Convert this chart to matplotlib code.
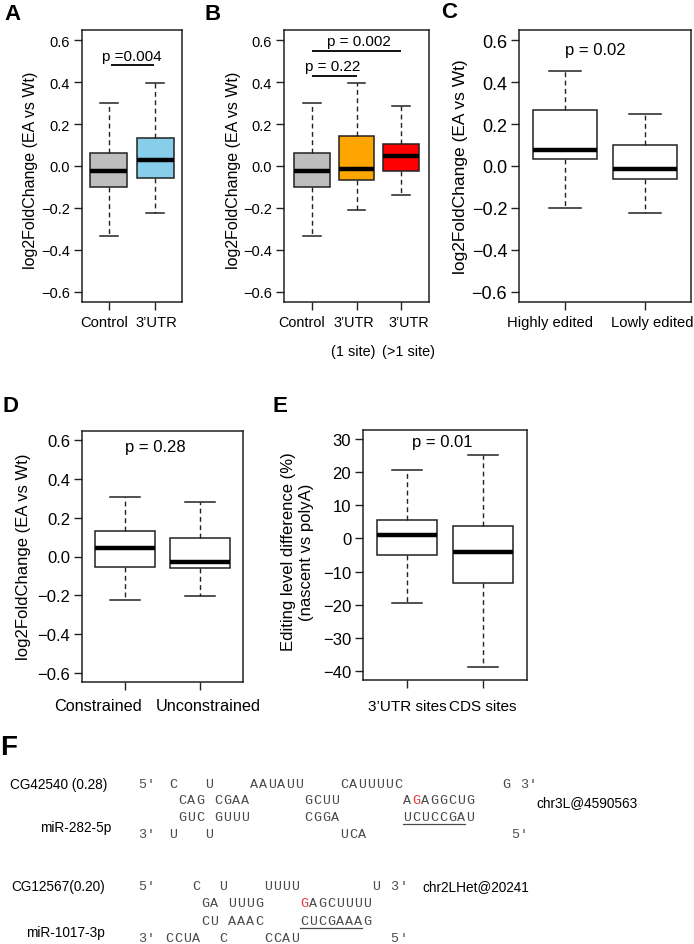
import matplotlib
matplotlib.use('Agg')
import matplotlib.pyplot as plt

plt.rcParams['font.family'] = ['Liberation Sans', 'DejaVu Sans']

W, H = 694, 945
fig = plt.figure(figsize=(W / 100, H / 100), dpi=100)

# ---------------- data ----------------
# Panel A
a_labels = ['Control', '3\u2019UTR']
a_whislo = [-0.335, -0.222]
a_q1 = [-0.100, -0.055]
a_med = [-0.025, 0.030]
a_q3 = [0.062, 0.135]
a_whishi = [0.300, 0.395]
a_colors = ['#BEBEBE', '#87CEEB']

# Panel B
b_labels = ['Control', '3\u2019UTR\n(1 site)', '3\u2019UTR\n(>1 site)']
b_whislo = [-0.335, -0.212, -0.137]
b_q1 = [-0.100, -0.067, -0.026]
b_med = [-0.025, -0.013, 0.050]
b_q3 = [0.062, 0.142, 0.105]
b_whishi = [0.300, 0.395, 0.285]
b_colors = ['#BEBEBE', '#FFA500', '#FF0000']

# Panel C
c_labels = ['Highly edited', 'Lowly edited']
c_whislo = [-0.200, -0.222]
c_q1 = [0.035, -0.060]
c_med = [0.075, -0.012]
c_q3 = [0.266, 0.100]
c_whishi = [0.455, 0.250]
c_colors = ['white', 'white']

# Panel D
d_labels = ['Constrained', 'Unconstrained']
d_whislo = [-0.225, -0.202]
d_q1 = [-0.053, -0.060]
d_med = [0.042, -0.028]
d_q3 = [0.131, 0.097]
d_whishi = [0.308, 0.280]
d_colors = ['white', 'white']

# Panel E
e_labels = ['3\u2019UTR sites', 'CDS sites']
e_whislo = [-19.5, -38.8]
e_q1 = [-5.0, -13.4]
e_med = [1.1, -4.0]
e_q3 = [5.6, 3.9]
e_whishi = [20.8, 25.1]
e_colors = ['white', 'white']

# category label anchors (data x) -- labels were spread apart in the original
a_labx = [0.89, 2.02]
b_labx = [0.78, 1.93, 3.16]
c_labx = [0.81, 2.09]
d_labx = [0.635, 2.12]
e_labx = [1.0, 2.0]

# p-value annotations: (text, x_text, y_text, bar_x1, bar_x2, bar_y)
a_p = [('p =0.004', 1.5, 0.525, 1.05, 1.98, 0.480)]
b_p = [('p = 0.002', 2.06, 0.597, 1.0, 3.0, 0.548),
       ('p = 0.22', 1.47, 0.478, 1.0, 2.0, 0.430)]
c_p = [('p = 0.02', 1.38, 0.553, None, None, None)]
d_p = [('p = 0.28', 1.40, 0.570, None, None, None)]
e_p = [('p = 0.01', 1.47, 29.4, None, None, None)]

lfc_ticks = [0.6, 0.4, 0.2, 0.0, -0.2, -0.4, -0.6]
lfc_ticklabels = ['0.6', '0.4', '0.2', '0.0', '\u22120.2', '\u22120.4', '\u22120.6']
e_ticks = [30, 20, 10, 0, -10, -20, -30, -40]
e_ticklabels = ['30', '20', '10', '0', '\u221210', '\u221220', '\u221230', '\u221240']

EDGE = '#222222'


def add_axes_px(l, t, r, b):
    return fig.add_axes([l / W, 1 - b / H, (r - l) / W, (b - t) / H])


def draw_panel(rect, labels, labx, whislo, q1, med, q3, whishi, colors, pvals,
               yticks, yticklabels, ylim, fs_ytick, fs_xtick, fs_p,
               lab_off, lab_gap=29):
    ax = add_axes_px(*rect)
    n = len(labels)
    stats = [dict(whislo=whislo[i], q1=q1[i], med=med[i], q3=q3[i],
                  whishi=whishi[i], label='') for i in range(n)]
    bp = ax.bxp(stats, positions=list(range(1, n + 1)), widths=0.8,
                showfliers=False, patch_artist=True, capwidths=0.4,
                boxprops=dict(edgecolor=EDGE, linewidth=1.1),
                medianprops=dict(color='black', linewidth=3.2, solid_capstyle='butt'),
                whiskerprops=dict(color=EDGE, linewidth=1.0, linestyle=(0, (3.5, 2.5))),
                capprops=dict(color=EDGE, linewidth=1.1))
    for patch, c in zip(bp['boxes'], colors):
        patch.set_facecolor(c)
    ext = 0.58 if n == 2 else 0.62
    ax.set_xlim(1 - ext, n + ext)
    ax.set_ylim(*ylim)
    ax.set_yticks(yticks)
    ax.set_yticklabels(yticklabels, fontsize=fs_ytick)
    ax.set_xticks(list(range(1, n + 1)))
    ax.set_xticklabels([''] * n)
    ax.tick_params(direction='out', length=5.5, width=1.0, color=EDGE, pad=3)
    for s in ax.spines.values():
        s.set_linewidth(1.1)
        s.set_color(EDGE)
    for lab, xl in zip(labels, labx):
        for k, line in enumerate(lab.split('\n')):
            ax.annotate(line, xy=(xl, 0), xycoords=('data', 'axes fraction'),
                        xytext=(0, -(lab_off + k * lab_gap)), textcoords='offset pixels',
                        ha='center', va='center', fontsize=fs_xtick,
                        annotation_clip=False)
    for (txt, xt, yt, x1, x2, yb) in pvals:
        ax.text(xt, yt, txt, ha='center', va='center', fontsize=fs_p)
        if x1 is not None:
            ax.plot([x1, x2], [yb, yb], color='black', lw=1.3, solid_capstyle='butt')
    return ax


lfc_lim = (-0.648, 0.648)
draw_panel((82, 31, 182, 303), a_labels, a_labx, a_whislo, a_q1, a_med, a_q3, a_whishi,
           a_colors, a_p, lfc_ticks, lfc_ticklabels, lfc_lim, 10.5, 10.6, 11, 20)
draw_panel((284, 31, 429, 303), b_labels, b_labx, b_whislo, b_q1, b_med, b_q3, b_whishi,
           b_colors, b_p, lfc_ticks, lfc_ticklabels, lfc_lim, 10.5, 10.4, 11, 20)
draw_panel((519, 31, 691, 303), c_labels, c_labx, c_whislo, c_q1, c_med, c_q3, c_whishi,
           c_colors, c_p, lfc_ticks, lfc_ticklabels, lfc_lim, 13, 10.6, 12, 20)
draw_panel((82, 432, 243, 683), d_labels, d_labx, d_whislo, d_q1, d_med, d_q3, d_whishi,
           d_colors, d_p, lfc_ticks, lfc_ticklabels, lfc_lim, 12, 11.7, 12, 24)
draw_panel((363, 431, 527, 681), e_labels, e_labx, e_whislo, e_q1, e_med, e_q3, e_whishi,
           e_colors, e_p, e_ticks, e_ticklabels, (-42.8, 32.8), 12, 11, 12, 26)


def ftext(x, y, s, **kw):
    return fig.text(x / W, 1 - y / H, s, **kw)


# y labels
ylab = 'log2FoldChange (EA vs Wt)'
ftext(31, 170, ylab, rotation=90, ha='center', va='center', fontsize=11.5)
ftext(234, 170, ylab, rotation=90, ha='center', va='center', fontsize=11.5)
ftext(461, 167, ylab, rotation=90, ha='center', va='center', fontsize=12.5)
ftext(24, 557, ylab, rotation=90, ha='center', va='center', fontsize=12)
ftext(297, 552, 'Editing level difference (%)\n(nascent vs polyA)', rotation=90,
      ha='center', va='center', fontsize=12, multialignment='center', linespacing=1.25)

# panel letters
for letter, x, y, fs in [('A', 4, 15, 16), ('B', 205, 15, 16), ('C', 441, 13, 16),
                         ('D', 2, 407, 16), ('E', 272, 407, 16), ('F', 0, 748, 20)]:
    ftext(x, y, letter, ha='left', va='center', fontsize=fs, fontweight='bold')

# ---------------- panel F ----------------
f_gene1 = 'CG42540 (0.28)'
f_mir1 = 'miR-282-5p'
f_site1 = 'chr3L@4590563'
f_rows1 = ["5'  C   U    AAUAUU    CAUUUUC           G 3'",
           "     CAG CGAA      GCUU       AGAGGCUG",
           "     GUC GUUU      CGGA       UCUCCGAU",
           "3'  U   U              UCA                5'"]
f_red1 = (1, 31)          # (row, column) of edited G
f_uline1 = (2, 30, 37)    # row, first col, end col (exclusive)

f_gene2 = 'CG12567(0.20)'
f_mir2 = 'miR-1017-3p'
f_site2 = 'chr2LHet@20241'
f_rows2 = ["5'    C  U    UUUU        U 3'",
           "       GA UUUG    GAGCUUUU",
           "       CU AAAC    CUCGAAAG",
           "3' CCUA  C    CCAU          5'"]
f_red2 = (1, 18)
f_uline2 = (2, 18, 25)

SEQ_COL = '#4a4a4a'
ADV = 9.0


def draw_block(rows, ys, x0, red, uline):
    for r, (s, y) in enumerate(zip(rows, ys)):
        for i, ch in enumerate(s):
            if ch == ' ':
                continue
            if i < 2:
                x = 138 + i * ADV
            else:
                x = x0 + i * ADV
            col = '#E8383D' if (r, i) == red else SEQ_COL
            ftext(x, y, ch, ha='left', va='center', fontsize=9.6,
                  family='Liberation Mono', color=col)
    r, c1, c2 = uline
    yu = ys[r] + 7
    fig.add_artist(plt.Line2D([(x0 + c1 * ADV) / W, (x0 + c2 * ADV - 1.5) / W],
                              [1 - yu / H, 1 - yu / H], color=SEQ_COL, lw=0.9))


draw_block(f_rows1, [785, 801, 818, 835], 133, f_red1, f_uline1)
draw_block(f_rows2, [887, 904, 922, 939], 138.4, f_red2, f_uline2)

ftext(10, 785, f_gene1, ha='left', va='center', fontsize=9.8)
ftext(111, 828, f_mir1, ha='right', va='center', fontsize=9.8)
ftext(536, 803, f_site1, ha='left', va='center', fontsize=9.8)
ftext(11, 887, f_gene2, ha='left', va='center', fontsize=9.8)
ftext(26, 933, f_mir2, ha='left', va='center', fontsize=9.8)
ftext(422, 887, f_site2, ha='left', va='center', fontsize=9.8)

fig.savefig('out.png', dpi=100)
